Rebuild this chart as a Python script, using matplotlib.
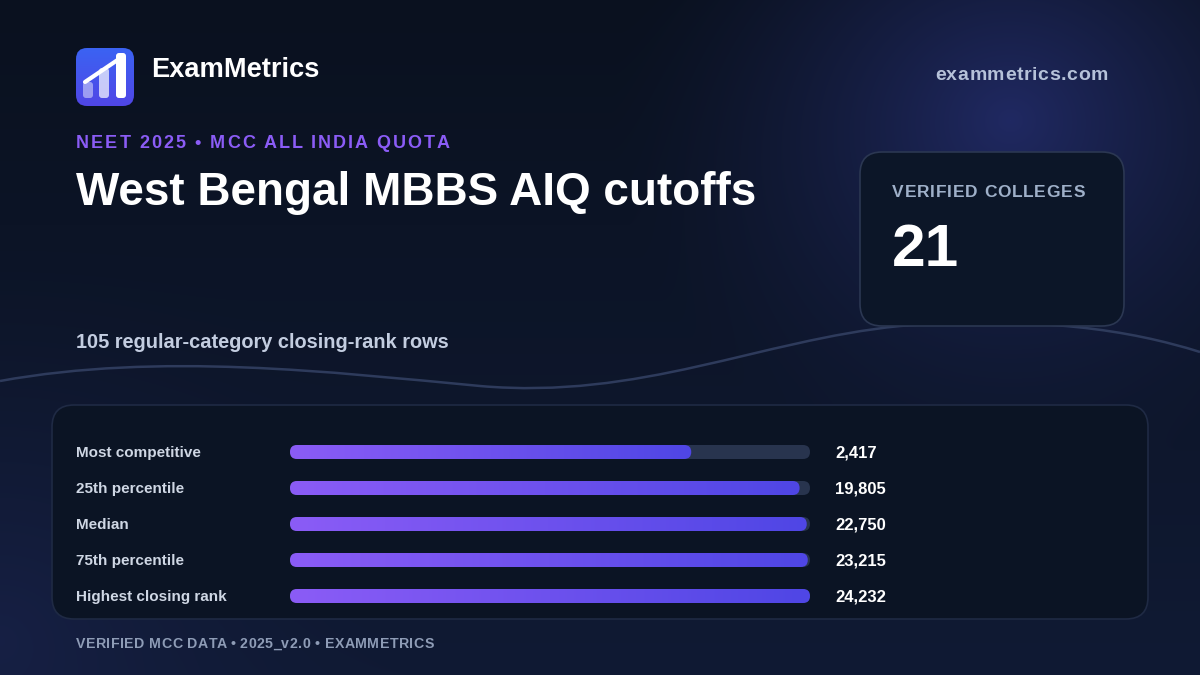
import numpy as np
import matplotlib
matplotlib.use("Agg")
import matplotlib.pyplot as plt
from matplotlib.patches import FancyBboxPatch
from matplotlib.path import Path
from matplotlib.patches import PathPatch
from matplotlib.font_manager import FontProperties
from matplotlib.colors import to_rgb

# Datos
etiquetas = ["Most competitive", "25th percentile", "Median", "75th percentile", "Highest closing rank"]
valores = [2417, 19805, 22750, 23215, 24232]
colegios = 21
filas = 105

W, H = 1200, 675
FUENTE = "Liberation Sans"

fig = plt.figure(figsize=(12, 6.75), dpi=100)
ax = fig.add_axes([0, 0, 1, 1])
ax.set_xlim(0, W)
ax.set_ylim(H, 0)
ax.axis("off")

# Fondo con degradado y brillo
yy, xx = np.mgrid[0:H, 0:W]
base0 = np.array(to_rgb("#0a111f"))
base1 = np.array(to_rgb("#101a34"))
t = (yy / H)[..., None]
img = base0 * (1 - t) + base1 * t
d = np.sqrt((xx - 1010) ** 2 + ((yy - 120) * 1.1) ** 2)
g = np.clip(1 - d / 400, 0, 1)[..., None] ** 1.5
img = img * (1 - g) + np.array(to_rgb("#202962")) * g
d2 = np.sqrt((xx - 0) ** 2 + (yy - 640) ** 2)
g2 = np.clip(1 - d2 / 420, 0, 1)[..., None] ** 1.8
img = img * (1 - 0.6 * g2) + np.array(to_rgb("#1b2450")) * 0.6 * g2
ax.imshow(img, extent=(0, W, H, 0), zorder=0, aspect="auto")

# Onda decorativa
verts = [(0, 381), (160, 352), (330, 372), (480, 386),
         (640, 400), (760, 340), (900, 326),
         (1040, 316), (1130, 330), (1200, 352)]
codes = [Path.MOVETO, Path.CURVE4, Path.CURVE4, Path.CURVE4,
         Path.CURVE4, Path.CURVE4, Path.CURVE4,
         Path.CURVE4, Path.CURVE4, Path.CURVE4]
ax.add_patch(PathPatch(Path(verts, codes), facecolor="none", edgecolor="#2e3b5c", lw=1.8, zorder=1))


def caja(x, y, w, h, r, fc, ec=None, lw=1.0, z=2):
    p = FancyBboxPatch((x, y), w, h, boxstyle=f"round,pad=0,rounding_size={r}",
                       facecolor=fc, edgecolor=ec if ec else "none", lw=lw, zorder=z)
    ax.add_patch(p)
    return p


def degradado(x, y, w, h, r, c0, c1, z=3, vertical=False):
    clip = FancyBboxPatch((x, y), w, h, boxstyle=f"round,pad=0,rounding_size={r}",
                          facecolor="none", edgecolor="none", transform=ax.transData)
    ax.add_patch(clip)
    n = np.linspace(0, 1, 256)
    a0, a1 = np.array(to_rgb(c0)), np.array(to_rgb(c1))
    if vertical:
        grad = (a0 * (1 - n[:, None]) + a1 * n[:, None])[:, None, :]
    else:
        grad = (a0 * (1 - n[:, None]) + a1 * n[:, None])[None, :, :]
    im = ax.imshow(grad, extent=(x, x + w, y + h, y), zorder=z, aspect="auto", interpolation="bilinear")
    im.set_clip_path(clip)


renderer = fig.canvas.get_renderer()


def ancho(s, fp):
    w1, _, _ = renderer.get_text_width_height_descent(s + "|", fp, ismath=False)
    w2, _, _ = renderer.get_text_width_height_descent("|", fp, ismath=False)
    return w1 - w2


def espaciado(x, y, s, size, sp, color, va="baseline"):
    fp = FontProperties(family=FUENTE, weight="bold", size=size)
    for i, ch in enumerate(s):
        xi = x + ancho(s[:i], fp) + i * sp
        ax.text(xi, y, ch, fontproperties=fp, color=color, va=va, ha="left", zorder=6)


# Logo
degradado(76, 48, 58, 58, 11, "#3b63f3", "#5046e6", z=3, vertical=True)
caja(83, 82, 10, 16, 3, (1, 1, 1, 0.45), z=4)
caja(99, 68, 10, 30, 3, (1, 1, 1, 0.7), z=4)
caja(116, 53, 10, 45, 3, "white", z=4)
ax.plot([85, 122], [82, 57], color="white", lw=3, solid_capstyle="round", zorder=5)

ax.text(151, 70, "ExamMetrics", fontfamily=FUENTE, fontweight="bold", fontsize=19.6,
        color="white", va="center", ha="left", zorder=6)
espaciado(935, 80, "exammetrics.com", 14, 0.55, "#b6c2d9")

espaciado(76, 148, "NEET 2025 • MCC ALL INDIA QUOTA", 13, 2.0, "#8b5cf6")
ax.text(76, 205, "West Bengal MBBS AIQ cutoffs", fontfamily=FUENTE, fontweight="bold", fontsize=33,
        color="white", va="baseline", ha="left", zorder=6)
ax.text(76, 343, f"{filas} regular-category closing-rank rows", fontfamily=FUENTE, fontweight="bold",
        fontsize=14.4, color="#c3cde0", va="center", ha="left", zorder=6)

# Tarjeta
caja(860, 152, 264, 174, 22, "#0c1628", "#2b3752", lw=1.2, z=2)
espaciado(892, 197, "VERIFIED COLLEGES", 12.5, 0.8, "#9fb0c9")
ax.text(892, 266, str(colegios), fontfamily=FUENTE, fontweight="bold", fontsize=43.5,
        color="white", va="baseline", ha="left", zorder=6)

# Panel de barras
caja(52, 405, 1096, 214, 22, "#0b1424", "#1f2a44", lw=1.2, z=2)

x0, wt, hb = 290, 520, 14
ys = [452 + 36 * i for i in range(len(valores))]
vmax = max(valores)
for lab, v, y in zip(etiquetas, valores, ys):
    frac = np.log(v) / np.log(vmax)
    caja(x0, y - hb / 2, wt, hb, hb / 2, "#28344e", z=3)
    degradado(x0, y - hb / 2, wt * frac, hb, hb / 2, "#8b5cf6", "#4f46e5", z=4)
    ax.text(76, y + 1, lab, fontfamily=FUENTE, fontweight="bold", fontsize=11,
            color="#cfd7e4", va="center", ha="left", zorder=6)
    ax.text(835, y + 1, f"{v:,}", fontfamily=FUENTE, fontweight="bold", fontsize=12,
            color="white", va="center", ha="left", zorder=6)

espaciado(76, 648, "VERIFIED MCC DATA • 2025_v2.0 • EXAMMETRICS", 10.2, 0.42, "#8e9cb6")

fig.savefig("out.png", dpi=100)
